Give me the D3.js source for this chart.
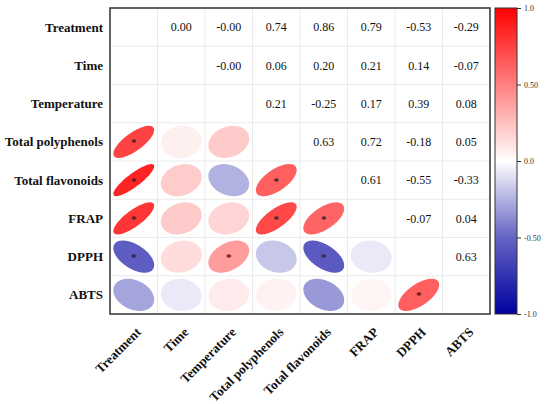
<!DOCTYPE html>
<html>
<head>
<meta charset="utf-8">
<script src="https://cdn.jsdelivr.net/npm/d3@7"></script>
<style>
  html, body { margin: 0; padding: 0; background: #fff; }
  svg { display: block; }
</style>
</head>
<body>
<svg id="chart" width="550" height="404"></svg>
<script>
// ---------- data ----------
const variables = ["Treatment", "Time", "Temperature", "Total polyphenols",
                   "Total flavonoids", "FRAP", "DPPH", "ABTS"];
// symmetric correlation matrix (row i, column j)
const corrTreatment   = [1, 0.001, -0.001, 0.74, 0.86, 0.79, -0.53, -0.29];
const corrTime        = [0.001, 1, -0.001, 0.06, 0.20, 0.21, 0.14, -0.07];
const corrTemperature = [-0.001, -0.001, 1, 0.21, -0.25, 0.17, 0.39, 0.08];
const corrPolyphenols = [0.74, 0.06, 0.21, 1, 0.63, 0.72, -0.18, 0.05];
const corrFlavonoids  = [0.86, 0.20, -0.25, 0.63, 1, 0.61, -0.55, -0.33];
const corrFRAP        = [0.79, 0.21, 0.17, 0.72, 0.61, 1, -0.07, 0.04];
const corrDPPH        = [-0.53, 0.14, 0.39, -0.18, -0.55, -0.07, 1, 0.63];
const corrABTS        = [-0.29, -0.07, 0.08, 0.05, -0.33, 0.04, 0.63, 1];
const corr = [corrTreatment, corrTime, corrTemperature, corrPolyphenols,
              corrFlavonoids, corrFRAP, corrDPPH, corrABTS];
// significant pairs (row, column) in the lower triangle
const significant = [[3,0],[4,0],[4,3],[5,0],[5,3],[5,4],[6,0],[6,2],[6,4],[7,6]];
const colorTicks = [1, 0.5, 0, -0.5, -1];
const colorTickLabels = ["1.0", "0.50", "0.0", "-0.50", "-1.0"];

// ---------- layout ----------
const svg = d3.select("#chart");
const box = {x0: 110, x1: 490, y0: 8, y1: 314};
const x = d3.scaleBand().domain(d3.range(variables.length)).range([box.x0, box.x1]);
const y = d3.scaleBand().domain(d3.range(variables.length)).range([box.y0, box.y1]);
const color = d3.scaleLinear()
  .domain([-1, -0.5, 0, 0.5, 1])
  .range(["#0000a0", "#6464c4", "#ffffff", "#ff8080", "#ff0000"])
  .interpolate(d3.interpolateRgb);

const font = "'Liberation Serif', 'Times New Roman', serif";

// grid lines
const grid = svg.append("g");
d3.range(1, variables.length).forEach(i => {
  grid.append("line").attr("x1", x(i)).attr("x2", x(i))
    .attr("y1", box.y0).attr("y2", box.y1)
    .attr("stroke", "#e4e4e4").attr("stroke-width", 0.8);
  grid.append("line").attr("y1", y(i)).attr("y2", y(i))
    .attr("x1", box.x0).attr("x2", box.x1)
    .attr("stroke", "#e4e4e4").attr("stroke-width", 0.8);
});

// cells
const cells = [];
corr.forEach((row, i) => row.forEach((v, j) => cells.push({i, j, v})));

const ax = x.bandwidth() * 0.43, by = y.bandwidth() * 0.42;
const ellipsePath = d => {
  const delta = Math.acos(Math.max(-1, Math.min(1, d.v)));
  const cx = x(d.j) + x.bandwidth() / 2, cy = y(d.i) + y.bandwidth() / 2;
  const pts = d3.range(0, 100).map(k => {
    const t = k / 100 * 2 * Math.PI;
    return [cx + ax * Math.cos(t + delta / 2), cy - by * Math.cos(t - delta / 2)];
  });
  return d3.line().curve(d3.curveLinearClosed)(pts);
};

svg.append("g").selectAll("path")
  .data(cells.filter(d => d.j < d.i))
  .join("path")
  .attr("d", ellipsePath)
  .attr("fill", d => color(d.v));

svg.append("g").selectAll("text")
  .data(significant)
  .join("text")
  .attr("x", d => x(d[1]) + x.bandwidth() / 2)
  .attr("y", d => y(d[0]) + y.bandwidth() / 2)
  .attr("dy", "0.42em")
  .attr("text-anchor", "middle")
  .attr("font-family", font)
  .attr("font-size", 11)
  .attr("font-weight", "bold")
  .attr("fill", "#3a1818")
  .text("*");

svg.append("g").selectAll("text")
  .data(cells.filter(d => d.j > d.i))
  .join("text")
  .attr("x", d => x(d.j) + x.bandwidth() / 2)
  .attr("y", d => y(d.i) + y.bandwidth() / 2)
  .attr("dy", "0.35em")
  .attr("text-anchor", "middle")
  .attr("font-family", font)
  .attr("font-size", 12)
  .attr("fill", "#111")
  .text(d => d.v.toFixed(2));

// frame
svg.append("rect")
  .attr("x", box.x0).attr("y", box.y0)
  .attr("width", box.x1 - box.x0).attr("height", box.y1 - box.y0)
  .attr("fill", "none").attr("stroke", "#3c3c3c").attr("stroke-width", 1.6);

// y labels
svg.append("g").selectAll("text")
  .data(variables)
  .join("text")
  .attr("x", box.x0 - 7)
  .attr("y", (d, i) => y(i) + y.bandwidth() / 2)
  .attr("dy", "0.35em")
  .attr("text-anchor", "end")
  .attr("font-family", font)
  .attr("font-size", 13)
  .attr("font-weight", "bold")
  .attr("fill", "#111")
  .text(d => d);

// x labels
svg.append("g").selectAll("text")
  .data(variables)
  .join("text")
  .attr("transform", (d, i) => `translate(${x(i) + x.bandwidth() / 2 + 8},${box.y1 + 19}) rotate(-45)`)
  .attr("text-anchor", "end")
  .attr("font-family", font)
  .attr("font-size", 13)
  .attr("font-weight", "bold")
  .attr("fill", "#111")
  .text(d => d);

// colour bar
const cb = {x0: 495, x1: 517, y0: box.y0, y1: box.y1};
const cy = d3.scaleLinear().domain([-1, 1]).range([cb.y1, cb.y0]);
const defs = svg.append("defs");
const grad = defs.append("linearGradient").attr("id", "cbar")
  .attr("x1", 0).attr("y1", 1).attr("x2", 0).attr("y2", 0);
d3.range(0, 21).forEach(k => {
  const v = -1 + k * 0.1;
  grad.append("stop").attr("offset", k / 20).attr("stop-color", color(v));
});
svg.append("rect")
  .attr("x", cb.x0).attr("y", cb.y0)
  .attr("width", cb.x1 - cb.x0).attr("height", cb.y1 - cb.y0)
  .attr("fill", "url(#cbar)").attr("stroke", "#333").attr("stroke-width", 1);

const cAxis = svg.append("g").attr("transform", `translate(${cb.x1},0)`)
  .call(d3.axisRight(cy).tickValues(colorTicks)
    .tickFormat((d, i) => colorTickLabels[i]).tickSize(4).tickPadding(3));
cAxis.select(".domain").remove();
cAxis.selectAll("line").attr("stroke", "#333");
cAxis.selectAll("text").attr("font-family", font).attr("font-size", 8)
  .attr("fill", "#333").style("fill", "#333");
</script>
</body>
</html>
